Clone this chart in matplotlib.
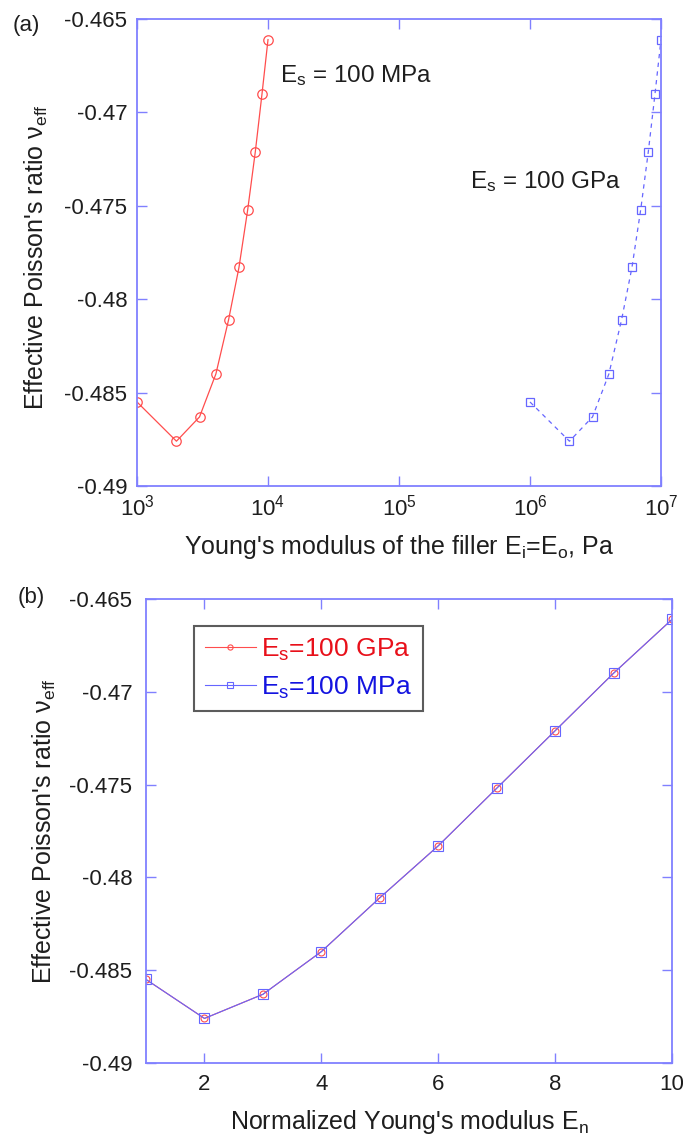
import matplotlib
matplotlib.use("Agg")
import matplotlib.pyplot as plt
import numpy as np

plt.rcParams['font.family'] = ['Liberation Sans', 'DejaVu Sans']
plt.rcParams['mathtext.fontset'] = 'custom'
plt.rcParams['mathtext.rm'] = 'Liberation Sans'
plt.rcParams['mathtext.it'] = 'Liberation Sans:italic'
plt.rcParams['mathtext.default'] = 'regular'

# Data
En = [1, 2, 3, 4, 5, 6, 7, 8, 9, 10]
E_filler_soft = [1e3, 2e3, 3e3, 4e3, 5e3, 6e3, 7e3, 8e3, 9e3, 1e4]   # Es = 100 MPa
E_filler_stiff = [1e6, 2e6, 3e6, 4e6, 5e6, 6e6, 7e6, 8e6, 9e6, 1e7]  # Es = 100 GPa
nu_GPa = [-0.4855, -0.4876, -0.4863, -0.4840, -0.4811, -0.4783, -0.4752, -0.4721, -0.4690, -0.4661]
nu_MPa = [-0.4855, -0.4876, -0.4863, -0.4840, -0.4811, -0.4783, -0.4752, -0.4721, -0.4690, -0.4661]
yticks = [-0.49, -0.485, -0.48, -0.475, -0.47, -0.465]
ytick_labels = ['-0.49', '-0.485', '-0.48', '-0.475', '-0.47', '-0.465']
xticks_a = [1e3, 1e4, 1e5, 1e6, 1e7]
xticks_b = [2, 4, 6, 8, 10]

RED = '#ff4d4d'
BLUE = '#6666ff'
SPINE = '#8080ff'
TXT = '#1e1e1e'

fig = plt.figure(figsize=(6.83, 11.42), dpi=100)

def style(ax, ypad, xpad):
    for s in ax.spines.values():
        s.set_color(SPINE)
        s.set_linewidth(1.3)
    ax.tick_params(which='both', direction='in', color=SPINE, labelcolor=TXT,
                   labelsize=16, top=True, right=True, length=7.5, width=1.0)
    ax.tick_params(axis='y', pad=ypad)
    ax.tick_params(axis='x', pad=xpad)
    ax.tick_params(which='minor', length=0)
    ax.set_yticks(yticks)
    ax.set_yticklabels(ytick_labels)
    ax.set_ylim(-0.49, -0.465)

ylabel = "Effective Poisson's ratio \u03bd$_{\\mathrm{eff}}$"

# Panel (a)
axa = fig.add_axes([0.2006, 0.5744, 0.7672, 0.4089])
axa.set_xscale('log')
axa.plot(E_filler_soft, nu_MPa, '-', color=RED, lw=0.9, marker='o', ms=6.8,
         mfc='none', mec=RED, mew=0.9)
axa.plot(E_filler_stiff, nu_GPa, '--', color=BLUE, lw=0.9, marker='s', ms=6.2,
         mfc='none', mec=BLUE, mew=0.9, dashes=(3.5, 3.5))
axa.set_xlim(1e3, 1e7)
axa.set_xticks(xticks_a)
style(axa, ypad=7, xpad=6)
axa.set_xlabel("Young's modulus of the filler E$_\\mathrm{i}$=E$_\\mathrm{o}$, Pa",
               fontsize=18, color=TXT, labelpad=9)
axa.set_ylabel(ylabel, fontsize=18, color=TXT)
axa.yaxis.set_label_coords(-0.166, 0.49)
axa.text(1.236e4, -0.46837, "E$_\\mathrm{s}$ = 100 MPa", fontsize=17.5,
         color=TXT, va='baseline')
axa.text(3.48e5, -0.47405, "E$_\\mathrm{s}$ = 100 GPa", fontsize=17.5,
         color=TXT, va='baseline')
fig.text(13 / 683, 1 - 25 / 1142, "(a)", fontsize=16, color=TXT, va='center')

# Panel (b)
axb = fig.add_axes([0.2138, 0.0692, 0.7701, 0.4063])
axb.plot(En, nu_GPa, '-', color=RED, lw=0.8, marker='o', ms=5,
         mfc='none', mec=RED, mew=0.8, label="E$_\\mathrm{s}$=100 GPa")
axb.plot(En, nu_MPa, '-', color=BLUE, lw=0.8, marker='s', ms=6.5,
         mfc='none', mec=BLUE, mew=0.8, label="E$_\\mathrm{s}$=100 MPa")
axb.set_xlim(1, 10)
axb.set_xticks(xticks_b)
style(axb, ypad=10, xpad=8)
axb.set_xlabel("Normalized Young's modulus E$_\\mathrm{n}$", fontsize=18,
               color=TXT, labelpad=9)
axb.set_ylabel(ylabel, fontsize=18, color=TXT)
axb.yaxis.set_label_coords(-0.167, 0.5)
leg = axb.legend(loc='upper left', bbox_to_anchor=(0.0913, 0.942), fontsize=19,
                 frameon=True, fancybox=False, edgecolor='#333333',
                 borderaxespad=0, handlelength=1.95, handletextpad=0.2,
                 borderpad=0.4, labelspacing=0.45, markerscale=0.75)
leg.get_frame().set_linewidth(1.5)
for t, c in zip(leg.get_texts(), ['#e8101a', '#1414e0']):
    t.set_color(c)
fig.text(18 / 683, 1 - 598 / 1142, "(b)", fontsize=16, color=TXT, va='center')

fig.savefig('out.png', dpi=100)
